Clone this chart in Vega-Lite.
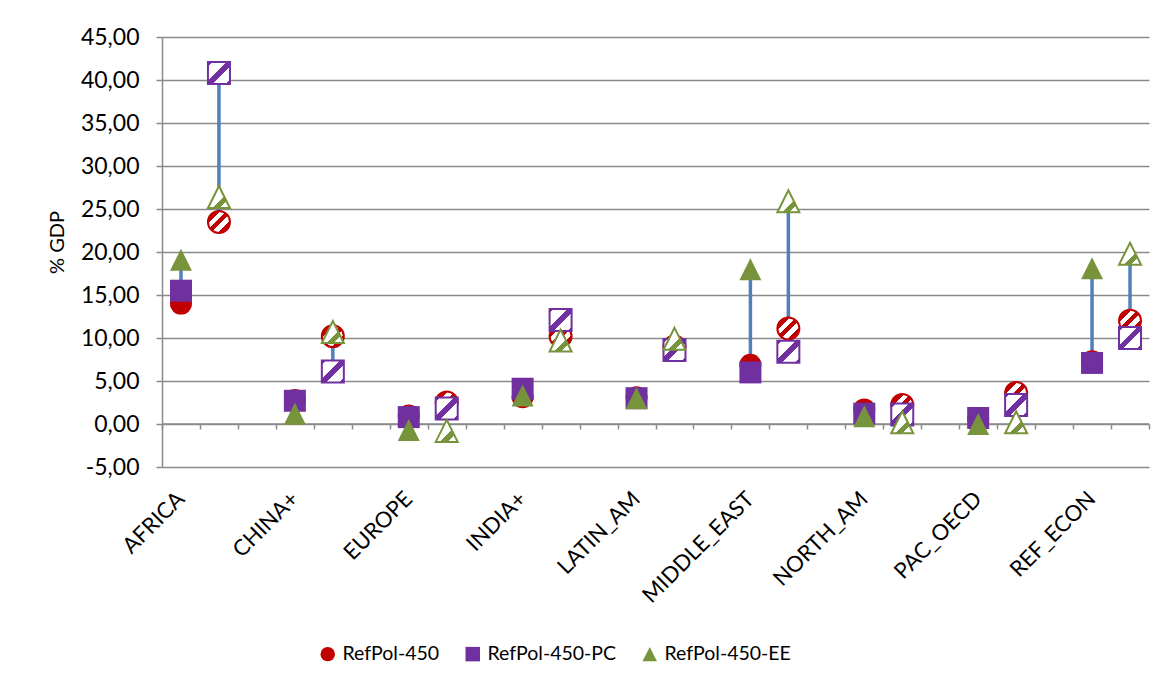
{
  "$schema": "https://vega.github.io/schema/vega-lite/v6.json",
  "width": 987,
  "height": 430,
  "autosize": {"type": "none"},
  "padding": {"left": 162, "top": 37, "right": 24, "bottom": 222},
  "background": "white",
  "config": {
    "font": "Lato",
    "view": {"stroke": null},
    "axis": {"labelFont": "Lato", "labelColor": "#000000", "titleFont": "Lato", "titleColor": "#000000", "titleFontWeight": "normal"},
    "legend": {"labelFont": "Lato", "labelColor": "#000000"}
  },
  "datasets": {
    "gdp": [
      {"region": "AFRICA", "case": "solid", "series": "RefPol-450", "value": 14.0},
      {"region": "AFRICA", "case": "solid", "series": "RefPol-450-PC", "value": 15.5},
      {"region": "AFRICA", "case": "solid", "series": "RefPol-450-EE", "value": 19.1},
      {"region": "AFRICA", "case": "hatched", "series": "RefPol-450", "value": 23.5},
      {"region": "AFRICA", "case": "hatched", "series": "RefPol-450-PC", "value": 40.8},
      {"region": "AFRICA", "case": "hatched", "series": "RefPol-450-EE", "value": 26.4},
      {"region": "CHINA+", "case": "solid", "series": "RefPol-450", "value": 2.8},
      {"region": "CHINA+", "case": "solid", "series": "RefPol-450-PC", "value": 2.7},
      {"region": "CHINA+", "case": "solid", "series": "RefPol-450-EE", "value": 1.2},
      {"region": "CHINA+", "case": "hatched", "series": "RefPol-450", "value": 10.2},
      {"region": "CHINA+", "case": "hatched", "series": "RefPol-450-PC", "value": 6.1},
      {"region": "CHINA+", "case": "hatched", "series": "RefPol-450-EE", "value": 10.7},
      {"region": "EUROPE", "case": "solid", "series": "RefPol-450", "value": 1.0},
      {"region": "EUROPE", "case": "solid", "series": "RefPol-450-PC", "value": 0.8},
      {"region": "EUROPE", "case": "solid", "series": "RefPol-450-EE", "value": -0.7},
      {"region": "EUROPE", "case": "hatched", "series": "RefPol-450", "value": 2.5},
      {"region": "EUROPE", "case": "hatched", "series": "RefPol-450-PC", "value": 1.8},
      {"region": "EUROPE", "case": "hatched", "series": "RefPol-450-EE", "value": -0.8},
      {"region": "INDIA+", "case": "solid", "series": "RefPol-450", "value": 3.1},
      {"region": "INDIA+", "case": "solid", "series": "RefPol-450-PC", "value": 4.1},
      {"region": "INDIA+", "case": "solid", "series": "RefPol-450-EE", "value": 3.3},
      {"region": "INDIA+", "case": "hatched", "series": "RefPol-450", "value": 10.2},
      {"region": "INDIA+", "case": "hatched", "series": "RefPol-450-PC", "value": 12.1},
      {"region": "INDIA+", "case": "hatched", "series": "RefPol-450-EE", "value": 9.7},
      {"region": "LATIN_AM", "case": "solid", "series": "RefPol-450", "value": 3.1},
      {"region": "LATIN_AM", "case": "solid", "series": "RefPol-450-PC", "value": 3.0},
      {"region": "LATIN_AM", "case": "solid", "series": "RefPol-450-EE", "value": 3.0},
      {"region": "LATIN_AM", "case": "hatched", "series": "RefPol-450", "value": 9.0},
      {"region": "LATIN_AM", "case": "hatched", "series": "RefPol-450-PC", "value": 8.6},
      {"region": "LATIN_AM", "case": "hatched", "series": "RefPol-450-EE", "value": 9.9},
      {"region": "MIDDLE_EAST", "case": "solid", "series": "RefPol-450", "value": 6.9},
      {"region": "MIDDLE_EAST", "case": "solid", "series": "RefPol-450-PC", "value": 6.0},
      {"region": "MIDDLE_EAST", "case": "solid", "series": "RefPol-450-EE", "value": 18.0},
      {"region": "MIDDLE_EAST", "case": "hatched", "series": "RefPol-450", "value": 11.1},
      {"region": "MIDDLE_EAST", "case": "hatched", "series": "RefPol-450-PC", "value": 8.4},
      {"region": "MIDDLE_EAST", "case": "hatched", "series": "RefPol-450-EE", "value": 25.9},
      {"region": "NORTH_AM", "case": "solid", "series": "RefPol-450", "value": 1.7},
      {"region": "NORTH_AM", "case": "solid", "series": "RefPol-450-PC", "value": 1.2},
      {"region": "NORTH_AM", "case": "solid", "series": "RefPol-450-EE", "value": 0.9},
      {"region": "NORTH_AM", "case": "hatched", "series": "RefPol-450", "value": 2.2},
      {"region": "NORTH_AM", "case": "hatched", "series": "RefPol-450-PC", "value": 1.1},
      {"region": "NORTH_AM", "case": "hatched", "series": "RefPol-450-EE", "value": 0.2},
      {"region": "PAC_OECD", "case": "solid", "series": "RefPol-450", "value": 0.6},
      {"region": "PAC_OECD", "case": "solid", "series": "RefPol-450-PC", "value": 0.7},
      {"region": "PAC_OECD", "case": "solid", "series": "RefPol-450-EE", "value": 0.0},
      {"region": "PAC_OECD", "case": "hatched", "series": "RefPol-450", "value": 3.6},
      {"region": "PAC_OECD", "case": "hatched", "series": "RefPol-450-PC", "value": 2.2},
      {"region": "PAC_OECD", "case": "hatched", "series": "RefPol-450-EE", "value": 0.2},
      {"region": "REF_ECON", "case": "solid", "series": "RefPol-450", "value": 7.3},
      {"region": "REF_ECON", "case": "solid", "series": "RefPol-450-PC", "value": 7.1},
      {"region": "REF_ECON", "case": "solid", "series": "RefPol-450-EE", "value": 18.1},
      {"region": "REF_ECON", "case": "hatched", "series": "RefPol-450", "value": 12.0},
      {"region": "REF_ECON", "case": "hatched", "series": "RefPol-450-PC", "value": 10.0},
      {"region": "REF_ECON", "case": "hatched", "series": "RefPol-450-EE", "value": 19.8}
    ]
  },
  "layer": [
    {
      "description": "Zero line with the small category tick marks hanging below it",
      "data": {"values": [{}]},
      "mark": {"type": "rule", "color": "#8a8a8a", "strokeWidth": 1.5},
      "encoding": {
        "x": {
          "datum": 0,
          "type": "quantitative",
          "scale": {"domain": [0, 26], "nice": false, "zero": false},
          "axis": {
            "orient": "bottom",
            "offset": -43,
            "values": [0, 1, 2, 3, 4, 5, 6, 7, 8, 9, 10, 11, 12, 13, 14, 15, 16, 17, 18, 19, 20, 21, 22, 23, 24, 25, 26],
            "labels": false,
            "ticks": true,
            "tickSize": 5,
            "tickColor": "#8a8a8a",
            "tickWidth": 1.5,
            "domain": false,
            "grid": false,
            "title": null
          }
        },
        "x2": {"datum": 26},
        "y": {
          "datum": 0, "type": "quantitative",
          "scale": {"domain": [-5, 45], "nice": false, "zero": false},
          "axis": {
            "title": "% GDP", "titleFontSize": 20, "titleX": -95, "titleY": 205,
            "values": [-5, 0, 5, 10, 15, 20, 25, 30, 35, 40, 45],
            "labelExpr": "replace(replace(format(datum.value, '.2f'), '.', ','), '\u2212', '-')",
            "labelFontSize": 23, "labelPadding": 17,
            "tickSize": 6, "tickColor": "#8a8a8a", "tickWidth": 1.5,
            "domainColor": "#8a8a8a", "domainWidth": 1.5,
            "grid": true, "gridColor": "#8a8a8a", "gridWidth": 1.5, "gridOpacity": 1
          }
        }
      }
    },
    {
      "data": {"name": "gdp"},
      "encoding": {
        "x": {
          "field": "region", "type": "nominal", "sort": null,
          "scale": {"type": "band", "domain": ["AFRICA", "CHINA+", "EUROPE", "INDIA+", "LATIN_AM", "MIDDLE_EAST", "NORTH_AM", "PAC_OECD", "REF_ECON"], "paddingInner": 0.33333, "paddingOuter": 0},
          "axis": {
            "orient": "bottom", "title": null,
            "ticks": false, "domain": false, "grid": false,
            "labelAngle": -45, "labelAlign": "right", "labelBaseline": "middle",
            "labelOffset": -19, "labelPadding": 28, "labelFontSize": 22
          }
        },
        "xOffset": {"field": "case", "type": "nominal", "scale": {"domain": ["solid", "hatched"], "paddingInner": 0, "paddingOuter": 0}},
        "y": {
          "field": "value", "type": "quantitative",
          "scale": {"domain": [-5, 45], "nice": false, "zero": false},
          "axis": {
            "title": "% GDP", "titleFontSize": 20, "titleX": -95, "titleY": 205,
            "values": [-5, 0, 5, 10, 15, 20, 25, 30, 35, 40, 45],
            "labelExpr": "replace(replace(format(datum.value, '.2f'), '.', ','), '\u2212', '-')",
            "labelFontSize": 23, "labelPadding": 17,
            "tickSize": 6, "tickColor": "#8a8a8a", "tickWidth": 1.5,
            "domainColor": "#8a8a8a", "domainWidth": 1.5,
            "grid": true, "gridColor": "#8a8a8a", "gridWidth": 1.5, "gridOpacity": 1
          }
        }
      },
      "layer": [
        {
          "description": "High-low connectors for each region and case",
          "transform": [
            {"aggregate": [{"op": "min", "field": "value", "as": "lo"}, {"op": "max", "field": "value", "as": "hi"}], "groupby": ["region", "case"]}
          ],
          "mark": {"type": "rule", "color": "#4F81BD", "strokeWidth": 3.5, "strokeCap": "butt"},
          "encoding": {
            "y": {
              "field": "lo", "type": "quantitative",
              "scale": {"domain": [-5, 45], "nice": false, "zero": false},
              "axis": {
                "title": "% GDP", "titleFontSize": 20, "titleX": -95, "titleY": 205,
                "values": [-5, 0, 5, 10, 15, 20, 25, 30, 35, 40, 45],
                "labelExpr": "replace(replace(format(datum.value, '.2f'), '.', ','), '\u2212', '-')",
                "labelFontSize": 23, "labelPadding": 17,
                "tickSize": 6, "tickColor": "#8a8a8a", "tickWidth": 1.5,
                "domainColor": "#8a8a8a", "domainWidth": 1.5,
                "grid": true, "gridColor": "#8a8a8a", "gridWidth": 1.5, "gridOpacity": 1
              }
            },
            "y2": {"field": "hi"}
          }
        },
        {
          "description": "Solid markers",
          "transform": [{"filter": "datum.case === 'solid'"}],
          "mark": {"type": "point", "filled": true, "opacity": 1, "size": 484, "strokeWidth": 0},
          "encoding": {
            "color": {
              "field": "series", "type": "nominal",
              "scale": {"domain": ["RefPol-450", "RefPol-450-PC", "RefPol-450-EE"], "range": ["#C00000", "#7030A0", "#77933C"]},
              "legend": {"title": null, "orient": "none", "legendX": 156, "legendY": 607, "direction": "horizontal", "symbolSize": 210, "symbolStrokeWidth": 0, "labelFontSize": 19.5, "labelOffset": 5, "columnPadding": 23}
            },
            "shape": {
              "field": "series", "type": "nominal",
              "scale": {"domain": ["RefPol-450", "RefPol-450-PC", "RefPol-450-EE"], "range": ["circle", "square", "M0,-1L1,1L-1,1Z"]},
              "legend": {"title": null, "orient": "none", "legendX": 156, "legendY": 607, "direction": "horizontal", "symbolSize": 210, "symbolStrokeWidth": 0, "labelFontSize": 19.5, "labelOffset": 5, "columnPadding": 23}
            }
          }
        },
        {
          "description": "Hatched circles",
          "transform": [{"filter": "datum.case === 'hatched' && datum.series === 'RefPol-450'"}],
          "mark": {
            "type": "point", "shape": "circle", "size": 484, "opacity": 1, "filled": false, "stroke": "#C00000", "strokeWidth": 2,
            "fill": {"gradient": "linear", "x1": 0, "y1": 0, "x2": 1, "y2": 1, "stops": [
              {"offset": 0, "color": "#C00000"}, {"offset": 0.29, "color": "#C00000"}, {"offset": 0.29, "color": "#ffffff"},
              {"offset": 0.43, "color": "#ffffff"}, {"offset": 0.43, "color": "#C00000"}, {"offset": 0.57, "color": "#C00000"},
              {"offset": 0.57, "color": "#ffffff"}, {"offset": 0.71, "color": "#ffffff"}, {"offset": 0.71, "color": "#C00000"},
              {"offset": 1, "color": "#C00000"}]}
          }
        },
        {
          "description": "Hatched squares",
          "transform": [{"filter": "datum.case === 'hatched' && datum.series === 'RefPol-450-PC'"}],
          "mark": {
            "type": "point", "shape": "square", "size": 484, "opacity": 1, "filled": false, "stroke": "#7030A0", "strokeWidth": 2,
            "fill": {"gradient": "linear", "x1": 0, "y1": 0, "x2": 1, "y2": 1, "stops": [
              {"offset": 0, "color": "#7030A0"}, {"offset": 0.1, "color": "#7030A0"}, {"offset": 0.1, "color": "#ffffff"},
              {"offset": 0.41, "color": "#ffffff"}, {"offset": 0.41, "color": "#7030A0"}, {"offset": 0.59, "color": "#7030A0"},
              {"offset": 0.59, "color": "#ffffff"}, {"offset": 0.9, "color": "#ffffff"}, {"offset": 0.9, "color": "#7030A0"},
              {"offset": 1, "color": "#7030A0"}]}
          }
        },
        {
          "description": "Hatched triangles",
          "transform": [{"filter": "datum.case === 'hatched' && datum.series === 'RefPol-450-EE'"}],
          "mark": {
            "type": "point", "shape": "M0,-1L1,1L-1,1Z", "size": 484, "opacity": 1, "filled": false, "stroke": "#77933C", "strokeWidth": 2,
            "fill": {"gradient": "linear", "x1": 0, "y1": 0, "x2": 1, "y2": 1, "stops": [
              {"offset": 0, "color": "#ffffff"}, {"offset": 0.6, "color": "#ffffff"}, {"offset": 0.6, "color": "#77933C"},
              {"offset": 0.76, "color": "#77933C"}, {"offset": 0.76, "color": "#ffffff"}, {"offset": 1, "color": "#ffffff"}]}
          }
        }
      ]
    }
  ],
  "resolve": {"scale": {"x": "independent"}, "axis": {"x": "independent"}}
}
